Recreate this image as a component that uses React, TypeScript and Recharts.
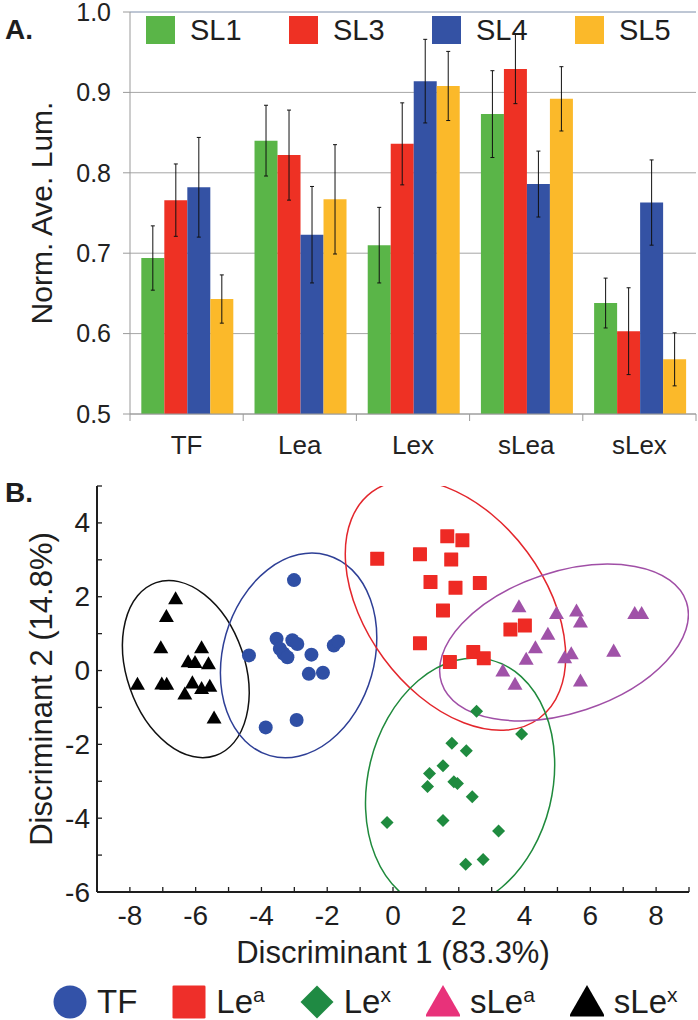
import React from 'react';
import {
  BarChart,
  Bar,
  XAxis,
  YAxis,
  CartesianGrid,
  ErrorBar,
  ReferenceLine,
  ScatterChart,
  Scatter,
  ReferenceArea,
  Label,
} from 'recharts';

const FONT = '"Liberation Sans", Arial, Helvetica, sans-serif';
const INK = '#1e1e1e';

// ---- panel A: normalised average luminance ----
const categories = ['TF', 'Lea', 'Lex', 'sLea', 'sLex'];
const sl1 = [0.694, 0.84, 0.71, 0.873, 0.638];
const sl1Err = [0.04, 0.044, 0.047, 0.054, 0.031];
const sl3 = [0.766, 0.822, 0.836, 0.929, 0.603];
const sl3Err = [0.045, 0.056, 0.051, 0.043, 0.054];
const sl4 = [0.782, 0.723, 0.914, 0.786, 0.763];
const sl4Err = [0.062, 0.06, 0.052, 0.041, 0.053];
const sl5 = [0.643, 0.767, 0.908, 0.892, 0.568];
const sl5Err = [0.03, 0.068, 0.043, 0.04, 0.033];
const yTicksA = [0.5, 0.6, 0.7, 0.8, 0.9, 1.0];

const barSeries = [
  { name: 'SL1', values: sl1, errors: sl1Err, color: '#5ab548' },
  { name: 'SL3', values: sl3, errors: sl3Err, color: '#ee3124' },
  { name: 'SL4', values: sl4, errors: sl4Err, color: '#3452a4' },
  { name: 'SL5', values: sl5, errors: sl5Err, color: '#fbb92a' },
];

const barRows = categories.map((name, i) => {
  const row: Record<string, string | number> = { name };
  barSeries.forEach((s) => {
    row[s.name] = s.values[i];
    row[s.name + 'Err'] = s.errors[i];
  });
  return row;
});

// ---- panel B: discriminant analysis ----
const tfPoints: [number, number][] = [
  [-3.01, 2.45], [-4.38, 0.41], [-3.54, 0.86], [-3.06, 0.82], [-2.91, 0.72],
  [-3.44, 0.59], [-3.33, 0.46], [-3.21, 0.36], [-2.48, 0.43], [-1.8, 0.68],
  [-1.67, 0.79], [-2.56, -0.09], [-2.13, -0.06], [-3.87, -1.54], [-2.93, -1.34],
];
const leaPoints: [number, number][] = [
  [-0.48, 3.03], [0.82, 3.15], [1.65, 3.64], [2.11, 3.53], [1.77, 3.01],
  [1.14, 2.4], [1.9, 2.24], [2.64, 2.37], [1.52, 1.63], [0.82, 0.74],
  [3.57, 1.11], [4.01, 1.22], [1.73, 0.23], [2.44, 0.5], [2.76, 0.33],
];
const lexPoints: [number, number][] = [
  [2.54, -1.1], [3.91, -1.72], [1.79, -1.97], [2.23, -2.17], [1.52, -2.58],
  [1.11, -2.79], [1.05, -3.14], [1.85, -3.01], [1.96, -3.06], [2.41, -3.42],
  [-0.18, -4.12], [1.52, -4.06], [3.21, -4.35], [2.74, -5.12], [2.21, -5.25],
];
const sleaPoints: [number, number][] = [
  [3.83, 1.74], [4.97, 1.56], [5.58, 1.63], [5.7, 1.33], [7.35, 1.56],
  [7.56, 1.56], [4.71, 1.0], [4.33, 0.63], [4.05, 0.32], [5.22, 0.36],
  [5.42, 0.47], [6.71, 0.54], [3.34, 0.0], [3.71, -0.36], [5.7, -0.27],
];
const slexPoints: [number, number][] = [
  [-6.61, 1.96], [-6.89, 1.48], [-7.06, 0.63], [-5.82, 0.63], [-6.23, 0.25],
  [-6.02, 0.23], [-5.61, 0.2], [-7.77, -0.36], [-7.03, -0.35], [-6.88, -0.36],
  [-6.1, -0.32], [-5.82, -0.47], [-5.57, -0.41], [-6.33, -0.62], [-5.44, -1.27],
];
const xTicksB = [-9, -8, -7, -6, -5, -4, -3, -2, -1, 0, 1, 2, 3, 4, 5, 6, 7, 8, 9];
const yTicksB = [-6, -5, -4, -3, -2, -1, 0, 1, 2, 3, 4, 5];
const xLabelsB = [-8, -6, -4, -2, 0, 2, 4, 6, 8];
const yLabelsB = [-6, -4, -2, 0, 2, 4];

const scatterGroups = [
  { name: 'TF', sup: '', points: tfPoints, kind: 'circle', color: '#2f4fa5', legendColor: '#3352a8' },
  { name: 'Le', sup: 'a', points: leaPoints, kind: 'square', color: '#ee2a24', legendColor: '#ee2f2a' },
  { name: 'Le', sup: 'x', points: lexPoints, kind: 'diamond', color: '#1f8b3f', legendColor: '#1f8a43' },
  { name: 'sLe', sup: 'a', points: sleaPoints, kind: 'triangle', color: '#a052a8', legendColor: '#e8327a' },
  { name: 'sLe', sup: 'x', points: slexPoints, kind: 'triangle', color: '#000000', legendColor: '#000000' },
];

// confidence ellipses: centre, semi-axes (x units / y units), tilt in degrees
const ellipses = [
  { cx: -6.3, cy: 0.04, a: 2.78, b: 1.6, angle: 71, color: '#111111' },
  { cx: -2.87, cy: 0.41, a: 3.17, b: 2.05, angle: -74, color: '#2e3f96' },
  { cx: 1.9, cy: 1.77, a: 4.28, b: 2.42, angle: 53.6, color: '#e3262c' },
  { cx: 5.2, cy: 0.76, a: 3.92, b: 1.91, angle: -18.3, color: '#a04fa6' },
  { cx: 2.04, cy: -3.07, a: 3.88, b: 2.5, angle: -76.3, color: '#1f8a3c' },
];

// category label at the band centre, boundary ticks at the band edges
function CatTick({ x, y, payload, index, visibleTicksCount, width }: any) {
  const half = payload.offset || width / visibleTicksCount / 2;
  const last = index === visibleTicksCount - 1;
  return (
    <g>
      <line x1={x - half} y1={y} x2={x - half} y2={y + 7} stroke="#9a9a9a" />
      {last && <line x1={x + half} y1={y} x2={x + half} y2={y + 7} stroke="#9a9a9a" />}
      <text x={x} y={y + 40} textAnchor="middle" fontSize={26} fill="#222">
        {payload.value}
      </text>
    </g>
  );
}

function VerticalTitle({ viewBox, value, cx, size }: any) {
  const cy = viewBox.y + viewBox.height / 2;
  return (
    <text
      x={cx}
      y={cy}
      transform={`rotate(-90 ${cx} ${cy})`}
      textAnchor="middle"
      dominantBaseline="central"
      fontSize={size}
      fill={INK}
    >
      {value}
    </text>
  );
}

function BottomTick({ x, y, payload }: any) {
  const v = payload.value;
  return (
    <g>
      <line x1={x} y1={y} x2={x} y2={y - 5} stroke={INK} strokeWidth={1.3} />
      {xLabelsB.includes(v) && (
        <text x={x} y={y + 33} textAnchor="middle" fontSize={28} fill={INK}>
          {String(v)}
        </text>
      )}
    </g>
  );
}

function TopTick({ x, y }: any) {
  return <line x1={x} y1={y} x2={x} y2={y + 5} stroke={INK} strokeWidth={1.3} />;
}

function LeftTick({ x, y, payload }: any) {
  const v = payload.value;
  return (
    <g>
      <line x1={x} y1={y} x2={x + 5} y2={y} stroke={INK} strokeWidth={1.3} />
      {yLabelsB.includes(v) && (
        <text x={x - 7} y={y} textAnchor="end" dominantBaseline="central" fontSize={28} fill={INK}>
          {String(v)}
        </text>
      )}
    </g>
  );
}

function RightTick({ x, y }: any) {
  return <line x1={x} y1={y} x2={x - 5} y2={y} stroke={INK} strokeWidth={1.3} />;
}

function makeEllipse(angle: number, color: string) {
  return (p: any) => {
    const cx = p.x + p.width / 2;
    const cy = p.y + p.height / 2;
    return (
      <g clipPath={p.clipPath}>
        <ellipse
          cx={cx}
          cy={cy}
          rx={p.width / 2}
          ry={p.height / 2}
          transform={`rotate(${angle} ${cx} ${cy})`}
          fill="none"
          stroke={color}
          strokeWidth={1.5}
        />
      </g>
    );
  };
}

function MarkerIcon({ kind, color, cx, cy, r }: { kind: string; color: string; cx: number; cy: number; r: number }) {
  if (kind === 'circle') return <circle cx={cx} cy={cy} r={r} fill={color} />;
  if (kind === 'square') return <rect x={cx - r} y={cy - r} width={2 * r} height={2 * r} fill={color} rx={r * 0.08} />;
  if (kind === 'diamond')
    return <polygon points={`${cx},${cy - r} ${cx + r},${cy} ${cx},${cy + r} ${cx - r},${cy}`} fill={color} />;
  return (
    <polygon
      points={`${cx},${cy - r} ${cx + r * 1.07},${cy + r * 0.86} ${cx - r * 1.07},${cy + r * 0.86}`}
      fill={color}
    />
  );
}

function makeMarker(kind: string, color: string) {
  const r = kind === 'diamond' ? 6.5 : 7;
  return (p: any) => <MarkerIcon kind={kind} color={color} cx={p.cx} cy={p.cy} r={r} />;
}

export default function App() {
  return (
    <div style={{ position: 'absolute', left: 0, top: 0, width: 698, height: 1020, fontFamily: FONT, background: '#fff' }}>
      {/* panel A */}
      <div style={{ position: 'absolute', left: 0, top: 0 }}>
        <BarChart
          width={698}
          height={470}
          data={barRows}
          margin={{ top: 12, right: 2, left: 0, bottom: 0 }}
          barCategoryGap="10%"
          barGap={0}
          style={{ overflow: 'visible' }}
        >
          <CartesianGrid vertical={false} stroke="#a6a6a6" />
          <XAxis
            dataKey="name"
            interval={0}
            height={56}
            tickSize={0}
            tickMargin={0}
            tickLine={false}
            axisLine={{ stroke: '#9a9a9a' }}
            tick={<CatTick />}
          />
          <YAxis
            domain={[0.5, 1]}
            ticks={yTicksA}
            interval={0}
            allowDataOverflow
            width={130}
            tickSize={7}
            tickMargin={12}
            tickFormatter={(v: number) => v.toFixed(1)}
            tick={{ fontSize: 25, fill: '#222' }}
            axisLine={{ stroke: '#9a9a9a' }}
            tickLine={{ stroke: '#9a9a9a' }}
          >
            <Label
              value="Norm. Ave. Lum."
              content={(props: any) => <VerticalTitle {...props} value="Norm. Ave. Lum." cx={41} size={30} />}
            />
          </YAxis>
          <YAxis
            yAxisId="r"
            orientation="right"
            width={0}
            domain={[0.5, 1]}
            tick={false}
            tickLine={false}
            axisLine={{ stroke: '#a9bad6' }}
          />
          <ReferenceLine y={1} stroke="#a9bad6" />
          {barSeries.map((s) => (
            <Bar key={s.name} dataKey={s.name} fill={s.color} isAnimationActive={false}>
              <ErrorBar dataKey={s.name + 'Err'} width={2} stroke="#111" strokeWidth={1} direction="y" />
            </Bar>
          ))}
        </BarChart>
      </div>

      <div style={{ position: 'absolute', left: 5, top: 16, fontSize: 28, fontWeight: 'bold', lineHeight: 1, color: INK }}>
        A.
      </div>

      {barSeries.map((s, i) => (
        <div
          key={s.name}
          style={{ position: 'absolute', left: 146 + i * 143, top: 16, height: 28, display: 'flex', alignItems: 'center' }}
        >
          <div style={{ width: 29, height: 28, background: s.color }} />
          <span style={{ marginLeft: 15, fontSize: 29, lineHeight: 1, color: INK }}>{s.name}</span>
        </div>
      ))}

      {/* panel B */}
      <div style={{ position: 'absolute', left: 0, top: 470 }}>
        <ScatterChart width={698} height={500} margin={{ top: 16, right: 9, left: 0, bottom: 0 }}>
          <XAxis
            dataKey="x"
            type="number"
            domain={[-9, 9]}
            ticks={xTicksB}
            interval={0}
            allowDataOverflow
            height={78}
            tickSize={0}
            tickMargin={0}
            tickLine={false}
            axisLine={{ stroke: INK, strokeWidth: 2 }}
            tick={<BottomTick />}
          >
            <Label
              value="Discriminant 1 (83.3%)"
              content={(props: any) => (
                <text
                  x={props.viewBox.x + props.viewBox.width / 2}
                  y={props.viewBox.y + 71}
                  textAnchor="middle"
                  fontSize={31}
                  fill={INK}
                >
                  Discriminant 1 (83.3%)
                </text>
              )}
            />
          </XAxis>
          <XAxis
            xAxisId="top"
            orientation="top"
            type="number"
            domain={[-9, 9]}
            ticks={xTicksB}
            interval={0}
            allowDataOverflow
            height={0}
            tickSize={0}
            tickMargin={0}
            tickLine={false}
            axisLine={{ stroke: INK, strokeWidth: 2 }}
            tick={<TopTick />}
          />
          <YAxis
            dataKey="y"
            type="number"
            domain={[-6, 5]}
            ticks={yTicksB}
            interval={0}
            allowDataOverflow
            width={97}
            tickSize={0}
            tickMargin={0}
            tickLine={false}
            axisLine={{ stroke: INK, strokeWidth: 2 }}
            tick={<LeftTick />}
          >
            <Label
              value="Discriminant 2 (14.8%)"
              content={(props: any) => <VerticalTitle {...props} value="Discriminant 2 (14.8%)" cx={41} size={31} />}
            />
          </YAxis>
          <YAxis
            yAxisId="right"
            orientation="right"
            type="number"
            domain={[-6, 5]}
            ticks={yTicksB}
            interval={0}
            allowDataOverflow
            width={0}
            tickSize={0}
            tickMargin={0}
            tickLine={false}
            axisLine={{ stroke: INK, strokeWidth: 2 }}
            tick={<RightTick />}
          />
          {ellipses.map((e, i) => (
            <ReferenceArea
              key={'e' + i}
              x1={e.cx - e.a}
              x2={e.cx + e.a}
              y1={e.cy - e.b}
              y2={e.cy + e.b}
              ifOverflow="hidden"
              shape={makeEllipse(e.angle, e.color)}
            />
          ))}
          {scatterGroups.map((g, i) => (
            <Scatter
              key={'s' + i}
              name={g.name + g.sup}
              data={g.points.map(([x, y]) => ({ x, y }))}
              fill={g.color}
              shape={makeMarker(g.kind, g.color)}
              isAnimationActive={false}
            />
          ))}
        </ScatterChart>
      </div>

      <div style={{ position: 'absolute', left: 5, top: 479, fontSize: 28, fontWeight: 'bold', lineHeight: 1, color: INK }}>
        B.
      </div>

      <div style={{ position: 'absolute', left: 53, top: 985, height: 33, display: 'flex', alignItems: 'center' }}>
        {scatterGroups.map((g, i) => (
          <div key={'l' + i} style={{ display: 'flex', alignItems: 'center', marginRight: 35 }}>
            <svg width={34} height={34}>
              <MarkerIcon kind={g.kind} color={g.legendColor} cx={17} cy={17} r={g.kind === 'triangle' ? 17 : 16.5} />
            </svg>
            <span style={{ marginLeft: 10, fontSize: 33, lineHeight: 1, color: INK }}>
              {g.name}
              {g.sup && <span style={{ fontSize: 21, verticalAlign: 'top', position: 'relative', top: -1 }}>{g.sup}</span>}
            </span>
          </div>
        ))}
      </div>
    </div>
  );
}
